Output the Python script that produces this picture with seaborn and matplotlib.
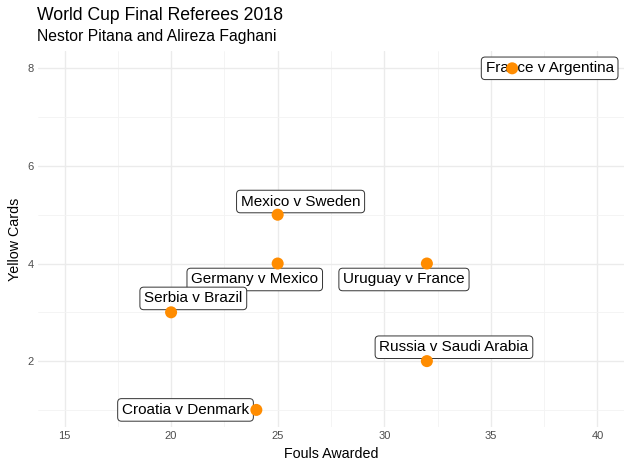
import matplotlib
matplotlib.use("Agg")
import matplotlib.pyplot as plt
import seaborn as sns
import pandas as pd
from matplotlib.ticker import MultipleLocator

matches = ["France v Argentina", "Mexico v Sweden", "Germany v Mexico", "Uruguay v France",
           "Serbia v Brazil", "Russia v Saudi Arabia", "Croatia v Denmark"]
fouls = [36, 25, 25, 32, 20, 32, 24]
yellows = [8, 5, 4, 4, 3, 2, 1]

# label offsets in points (style only)
offsets = [(27, 0), (16.5, 9.5), (-16.5, -11.5), (-16.5, -11.5), (16, 10), (19.5, 10), (-51, 0)]

df = pd.DataFrame({"match": matches, "fouls": fouls, "yellows": yellows})

sns.set_theme(style="whitegrid")
plt.rcParams['font.family'] = ['Liberation Sans', 'DejaVu Sans']

fig = plt.figure(figsize=(6.31, 4.70), dpi=100)
ax = fig.add_axes([0.060, 0.0915, 0.929, 0.7995])

sns.scatterplot(data=df, x="fouls", y="yellows", ax=ax, color="#FF8C00", s=75,
                edgecolor="none", zorder=5)

for m, x, y, off in zip(df["match"], df["fouls"], df["yellows"], offsets):
    ax.annotate(m, (x, y), xytext=off, textcoords="offset points", ha="center", va="center",
                fontsize=11.0, color="black", zorder=4,
                bbox=dict(boxstyle="round,pad=0.28,rounding_size=0.25", fc="white", ec="#333333", lw=0.7))

ax.set_xlim(13.75, 41.25)
ax.set_ylim(0.65, 8.35)
ax.xaxis.set_major_locator(MultipleLocator(5))
ax.yaxis.set_major_locator(MultipleLocator(2))
ax.xaxis.set_minor_locator(MultipleLocator(2.5))
ax.yaxis.set_minor_locator(MultipleLocator(1))
ax.grid(which="major", color="#EBEBEB", lw=1.0)
ax.grid(which="minor", color="#F3F3F3", lw=0.6)
ax.set_facecolor("white")
for s in ax.spines.values():
    s.set_visible(False)
ax.tick_params(axis="both", which="both", length=0, labelsize=8, labelcolor="#4D4D4D", pad=3)
ax.set_xlabel("Fouls Awarded", fontsize=10.3, color="black", labelpad=4)
ax.set_ylabel("Yellow Cards", fontsize=10.3, color="black", labelpad=4)

fig.text(0.059, 0.968, "World Cup Final Referees 2018", fontsize=12.7, color="black", va="center")
fig.text(0.059, 0.922, "Nestor Pitana and Alireza Faghani", fontsize=11.3, color="black", va="center")

fig.savefig("out.png", dpi=100, facecolor="white")
